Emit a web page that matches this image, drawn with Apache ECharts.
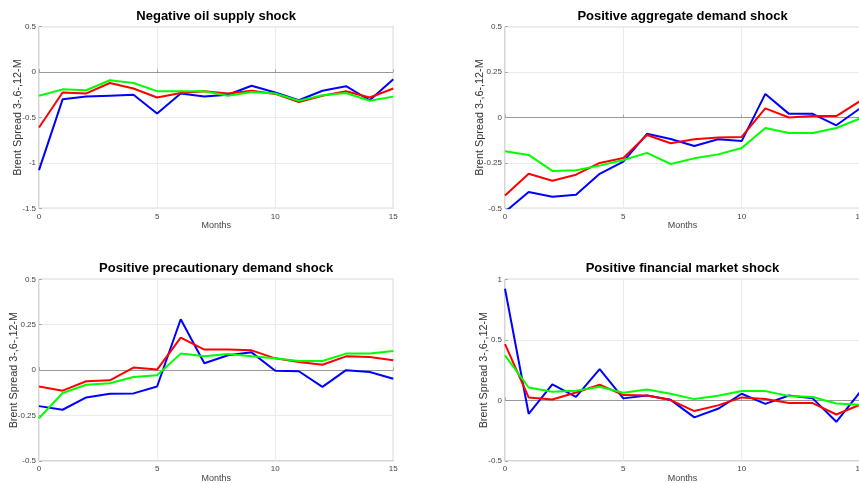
<!DOCTYPE html>
<html><head><meta charset="utf-8">
<script src="https://cdn.jsdelivr.net/npm/echarts@6/dist/echarts.min.js"></script>
<style>html,body{margin:0;padding:0;background:#fff}#c{width:859px;height:483px}</style>
</head><body><div id="c"></div>
<script>
const months = [0,1,2,3,4,5,6,7,8,9,10,11,12,13,14,15];
const titles = ['Negative oil supply shock','Positive aggregate demand shock','Positive precautionary demand shock','Positive financial market shock'];
const yAxisName = 'Brent Spread 3-,6-,12-M';
const xAxisName = 'Months';
const yTicks = [[-1.5,0.5,0.5],[-0.5,0.5,0.25],[-0.5,0.5,0.25],[-0.5,1,0.5]];

const oilBlue  = [-1.08,-0.30,-0.27,-0.26,-0.25,-0.455,-0.235,-0.27,-0.25,-0.15,-0.225,-0.31,-0.205,-0.155,-0.31,-0.08];
const oilRed   = [-0.61,-0.225,-0.235,-0.12,-0.18,-0.28,-0.23,-0.21,-0.235,-0.205,-0.24,-0.33,-0.26,-0.21,-0.28,-0.18];
const oilGreen = [-0.26,-0.19,-0.20,-0.09,-0.12,-0.21,-0.21,-0.21,-0.26,-0.22,-0.235,-0.315,-0.255,-0.23,-0.315,-0.27];

const aggBlue  = [-0.52,-0.41,-0.436,-0.425,-0.31,-0.243,-0.09,-0.118,-0.157,-0.12,-0.13,0.13,0.02,0.02,-0.043,0.05];
const aggRed   = [-0.43,-0.31,-0.348,-0.315,-0.25,-0.223,-0.096,-0.142,-0.12,-0.11,-0.107,0.05,0.0,0.008,0.008,0.09];
const aggGreen = [-0.186,-0.206,-0.294,-0.29,-0.265,-0.234,-0.195,-0.256,-0.225,-0.203,-0.168,-0.058,-0.085,-0.085,-0.058,-0.005];

const precBlue  = [-0.198,-0.218,-0.15,-0.13,-0.128,-0.09,0.28,0.038,0.082,0.098,-0.003,-0.006,-0.092,0.0,-0.01,-0.047];
const precRed   = [-0.09,-0.113,-0.061,-0.056,0.014,0.003,0.179,0.113,0.113,0.109,0.065,0.045,0.03,0.076,0.073,0.054];
const precGreen = [-0.265,-0.126,-0.08,-0.072,-0.038,-0.028,0.091,0.076,0.089,0.076,0.065,0.05,0.05,0.091,0.091,0.105];

const finBlue  = [0.922,-0.11,0.132,0.03,0.259,0.017,0.041,0.005,-0.14,-0.069,0.055,-0.028,0.041,0.017,-0.176,0.069];
const finRed   = [0.465,0.025,0.008,0.066,0.13,0.044,0.041,0.003,-0.088,-0.041,0.025,0.011,-0.022,-0.022,-0.116,-0.036];
const finGreen = [0.372,0.107,0.072,0.08,0.113,0.063,0.091,0.055,0.011,0.039,0.077,0.077,0.036,0.028,-0.025,-0.036];

const panels = [[oilBlue,oilRed,oilGreen],[aggBlue,aggRed,aggGreen],[precBlue,precRed,precGreen],[finBlue,finRed,finGreen]];
const colors = ['#0000ff','#ff0000','#00ff00'];

const gridPos = [
  {left:39, top:26.7, width:354.3, height:181.6},
  {left:505, top:26.7, width:355, height:181.6},
  {left:39, top:279.3, width:354.3, height:181.7},
  {left:505, top:279.3, width:355, height:181.7}
];
const nameGaps = [15,19,19,15];
const font = 'Liberation Sans, Arial, sans-serif';

const option = {
  animation:false,
  backgroundColor:'#fff',
  title: titles.map((t,i)=>({
    text:t, left:gridPos[i].left+gridPos[i].width/2, textAlign:'center',
    top: gridPos[i].top-17, padding:0,
    textStyle:{fontSize:13, fontWeight:'bold', color:'#000', fontFamily:font}
  })),
  grid: gridPos.map(g=>Object.assign({show:true, borderColor:'#aaaaaa', borderWidth:1, backgroundColor:'#fff', containLabel:false, outerBoundsMode:'none'}, g)),
  xAxis: gridPos.map((g,i)=>({
    type:'value', gridIndex:i, min:0, max:15, interval:5,
    name:xAxisName, nameLocation:'middle', nameGap:13, nameMoveOverlap:false,
    nameTextStyle:{fontSize:9, color:'#444', fontFamily:font},
    axisLine:{show:false},
    axisTick:{show:true, inside:true, length:3, lineStyle:{color:'#aaa'}},
    axisLabel:{fontSize:8, color:'#444', margin:4, fontFamily:font},
    splitLine:{show:true, lineStyle:{color:'#ebebeb', width:1}}
  })),
  yAxis: gridPos.map((g,i)=>({
    type:'value', gridIndex:i, min:yTicks[i][0], max:yTicks[i][1], interval:yTicks[i][2],
    name:yAxisName, nameLocation:'middle', nameGap:nameGaps[i], nameMoveOverlap:false,
    nameTextStyle:{fontSize:10.8, color:'#333', fontFamily:font},
    axisLine:{show:false},
    axisTick:{show:true, inside:true, length:3, lineStyle:{color:'#aaa'}},
    axisLabel:{fontSize:8, color:'#444', margin:3, fontFamily:font},
    splitLine:{show:true, lineStyle:{color:'#ebebeb', width:1}}
  })),
  series: []
};
panels.forEach((p,i)=>{
  p.forEach((vals,k)=>{
    option.series.push({
      type:'line', xAxisIndex:i, yAxisIndex:i, symbol:'none', clip:true,
      data: months.map((m,j)=>[m, vals[j]]),
      lineStyle:{color:colors[k], width:2},
      itemStyle:{color:colors[k]},
      z: 3+k,
      markLine: k===0 ? {silent:true, symbol:'none', label:{show:false},
        lineStyle:{color:'#999', width:1.2, type:'solid'}, data:[{yAxis:0}], z:2} : undefined
    });
  });
});
const chart = echarts.init(document.getElementById('c'), null, {renderer:'canvas'});
chart.setOption(option);
</script>
</body></html>
